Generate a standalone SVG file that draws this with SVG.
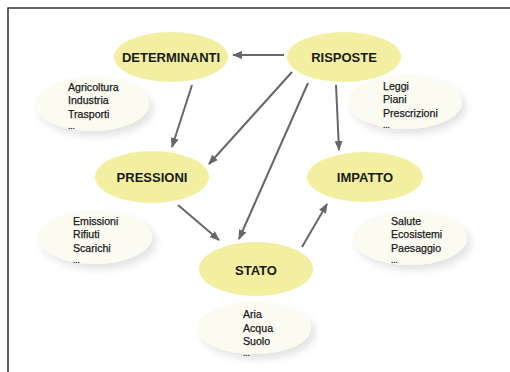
<svg xmlns="http://www.w3.org/2000/svg" width="510" height="372" viewBox="0 0 510 372">
<style>
.main{fill:#f2efa0;}
.bub{fill:#fbfbf1;}
.lbl{font-family:"Liberation Sans",Arial,sans-serif;font-weight:bold;font-size:13px;fill:#1a1a1a;text-anchor:middle;}
.sub{font-family:"Liberation Sans",Arial,sans-serif;font-size:10.6px;fill:#1a1a1a;stroke:#1a1a1a;stroke-width:0.25;}
.dots{font-family:"Liberation Sans",Arial,sans-serif;font-size:8px;font-weight:bold;fill:#1a1a1a;}
.con line{stroke:#666769;stroke-width:2;marker-end:url(#ah);}
</style>
<defs>
<marker id="ah" viewBox="0 0 10 8" refX="9" refY="4" markerWidth="10" markerHeight="8" markerUnits="userSpaceOnUse" orient="auto">
<path d="M0,0 L10,4 L0,8 z" fill="#666769"/>
</marker>
<filter id="sh" x="-30%" y="-30%" width="160%" height="170%">
<feGaussianBlur in="SourceAlpha" stdDeviation="4"/>
<feOffset dx="4" dy="5" result="b"/>
<feComponentTransfer><feFuncA type="linear" slope="0.12"/></feComponentTransfer>
<feMerge><feMergeNode/><feMergeNode in="SourceGraphic"/></feMerge>
</filter>
</defs>
<rect width="510" height="372" fill="#fff"/>
<path d="M8,372 V8 H510" fill="none" stroke="#333" stroke-width="1.5"/>

<g id="b-determinanti">
<ellipse class="bub" cx="92" cy="104" rx="57" ry="27" filter="url(#sh)"/>
<text class="sub" x="68" y="91">Agricoltura</text>
<text class="sub" x="68" y="104">Industria</text>
<text class="sub" x="68" y="117.5">Trasporti</text>
<text class="dots" x="68" y="129">...</text>
</g>
<g id="b-risposte">
<ellipse class="bub" cx="405" cy="102" rx="57" ry="27" filter="url(#sh)"/>
<text class="sub" x="383" y="89.5">Leggi</text>
<text class="sub" x="383" y="103">Piani</text>
<text class="sub" x="383" y="116.5">Prescrizioni</text>
<text class="dots" x="383" y="128">...</text>
</g>
<g id="b-pressioni">
<ellipse class="bub" cx="95" cy="237" rx="57" ry="27" filter="url(#sh)"/>
<text class="sub" x="73" y="225">Emissioni</text>
<text class="sub" x="73" y="238">Rifiuti</text>
<text class="sub" x="73" y="251.5">Scarichi</text>
<text class="dots" x="73" y="263">...</text>
</g>
<g id="b-impatto">
<ellipse class="bub" cx="410" cy="238" rx="57" ry="27" filter="url(#sh)"/>
<text class="sub" x="391" y="225">Salute</text>
<text class="sub" x="391" y="238">Ecosistemi</text>
<text class="sub" x="391" y="251.5">Paesaggio</text>
<text class="dots" x="391" y="263">...</text>
</g>
<g id="b-stato">
<ellipse class="bub" cx="254" cy="328" rx="57" ry="26" filter="url(#sh)"/>
<text class="sub" x="243" y="318">Aria</text>
<text class="sub" x="243" y="331.5">Acqua</text>
<text class="sub" x="243" y="345">Suolo</text>
<text class="dots" x="243" y="356">...</text>
</g>

<g id="determinanti">
<ellipse class="main" cx="171" cy="57" rx="57" ry="25"/>
<text class="lbl" x="171" y="62">DETERMINANTI</text>
</g>
<g id="risposte">
<ellipse class="main" cx="344" cy="57" rx="57" ry="25"/>
<text class="lbl" x="344" y="62">RISPOSTE</text>
</g>
<g id="pressioni">
<ellipse class="main" cx="152" cy="177" rx="57" ry="26"/>
<text class="lbl" x="152" y="182">PRESSIONI</text>
</g>
<g id="impatto">
<ellipse class="main" cx="365" cy="177" rx="58" ry="25"/>
<text class="lbl" x="365" y="182">IMPATTO</text>
</g>
<g id="stato">
<ellipse class="main" cx="256" cy="269" rx="57" ry="27"/>
<text class="lbl" x="256" y="275">STATO</text>
</g>

<g id="connectors" class="con">
<line x1="284" y1="55" x2="233" y2="55"/>
<line x1="192" y1="85" x2="172" y2="147"/>
<line x1="292" y1="72" x2="209" y2="164"/>
<line x1="308" y1="83" x2="239" y2="239"/>
<line x1="336" y1="85" x2="339" y2="150"/>
<line x1="178" y1="205" x2="219" y2="240"/>
<line x1="302" y1="247" x2="327" y2="204"/>
</g>
</svg>
